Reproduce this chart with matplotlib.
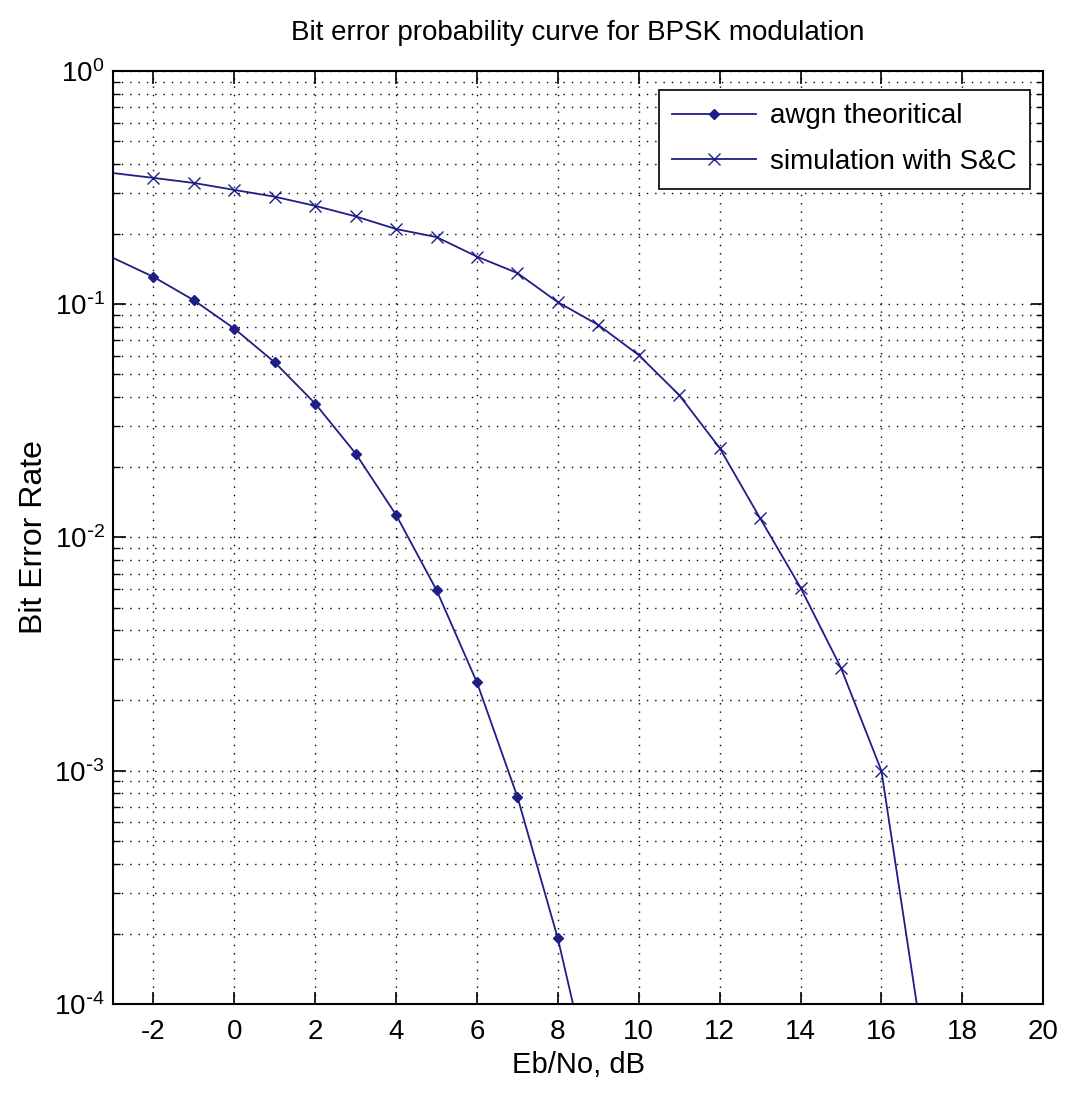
import matplotlib.pyplot as plt
from matplotlib.ticker import LogLocator, NullFormatter, FuncFormatter
import math

plt.rcParams['font.family'] = ['Liberation Sans', 'DejaVu Sans']
plt.rcParams['axes.unicode_minus'] = False

# datos
snr_db = [-3, -2, -1, 0, 1, 2, 3, 4, 5, 6, 7, 8, 9, 10, 11, 12, 13, 14, 15, 16, 17]
ber_theory = [0.158, 0.131, 0.104, 0.0786, 0.0563, 0.0375, 0.0229, 0.0125,
              0.00595, 0.00239, 0.000773, 0.000191, 3.4e-5]
ber_sim = [0.365, 0.348, 0.331, 0.309, 0.289, 0.264, 0.238, 0.21, 0.194, 0.16,
           0.136, 0.102, 0.0815, 0.0605, 0.0408, 0.0242, 0.0121, 0.0061,
           0.00276, 0.00100, 7.2e-5]
x_ticks = [-2, 0, 2, 4, 6, 8, 10, 12, 14, 16, 18, 20]

color = '#1e1e86'


def exp_label(v, pos):
    e = int(round(math.log10(v)))
    if e < 0:
        return r'$\mathdefault{10^{\text{-}%d}}$' % (-e)
    return r'$\mathdefault{10^{%d}}$' % e


fig = plt.figure(figsize=(10.81, 11), dpi=100)
ax = fig.add_axes([0.1045, 0.0873, 0.8605, 0.8482])

ax.semilogy(snr_db[:len(ber_theory)], ber_theory, color=color, lw=1.3,
            marker='D', ms=5, mfc=color, mec=color, markevery=list(range(1, 12)),
            label='awgn theoritical')
ax.semilogy(snr_db, ber_sim, color=color, lw=1.3,
            marker='x', ms=8, mew=1.0, markevery=list(range(1, 20)),
            label='simulation with S&C')

ax.set_xlim(-3, 20)
ax.set_ylim(1e-4, 1)
ax.set_xticks(x_ticks)
ax.set_xticklabels([str(t) for t in x_ticks])
ax.yaxis.set_major_locator(LogLocator(base=10, numticks=10))
ax.yaxis.set_major_formatter(FuncFormatter(exp_label))
ax.yaxis.set_minor_locator(LogLocator(base=10, subs=range(2, 10), numticks=20))
ax.yaxis.set_minor_formatter(NullFormatter())

dots = (0, (1, 5))
ax.grid(True, which='major', axis='both', color='black', lw=1.0, linestyle=dots)
ax.grid(True, which='minor', axis='y', color='black', lw=1.0, linestyle=dots)

ax.tick_params(which='both', direction='in', top=True, right=True, labelsize=20)
ax.tick_params(which='major', length=9, width=1.2)
ax.tick_params(which='minor', length=5, width=1.0)
ax.tick_params(axis='x', pad=11)
ax.tick_params(axis='y', pad=6)
for s in ax.spines.values():
    s.set_linewidth(1.5)

ax.set_title('Bit error probability curve for BPSK modulation', fontsize=20, pad=22)
ax.set_xlabel('Eb/No, dB', fontsize=21, labelpad=4)
ax.set_ylabel('Bit Error Rate', fontsize=23, labelpad=4)

leg = ax.legend(loc='upper right', bbox_to_anchor=(0.986, 0.98), borderaxespad=0,
                fontsize=20, fancybox=False, framealpha=1, edgecolor='black',
                handlelength=3.0, handletextpad=0.5, labelspacing=0.7,
                borderpad=0.5)
leg.get_frame().set_linewidth(1.2)

plt.savefig('out.png', dpi=100)
